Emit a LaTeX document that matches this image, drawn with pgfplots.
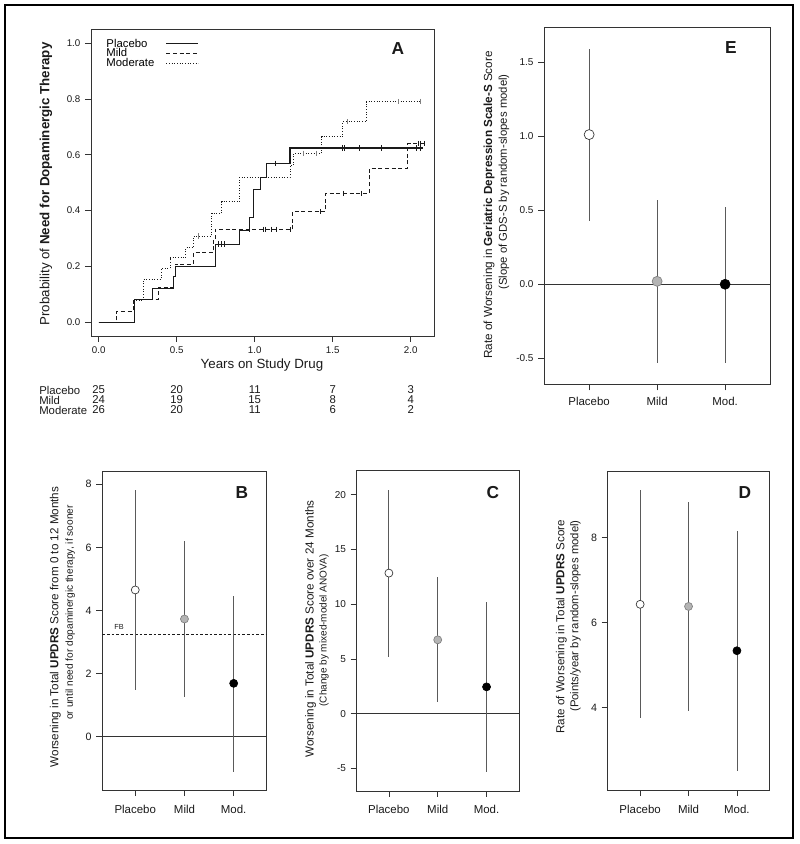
\documentclass[border=0pt]{standalone}
\usepackage{fontspec}
\setmainfont{Liberation Sans}
\usepackage{pgfplots}
\pgfplotsset{compat=1.18}
\usepackage{pgfplotstable}

\definecolor{axgray}{HTML}{333333}
\definecolor{errgray}{HTML}{5A5A5A}
\definecolor{midgray}{HTML}{B4B4B4}
\definecolor{ink}{HTML}{1A1A1A}

\pgfplotstableread{
x y lo hi
0 1.01 0.43 1.59
1 0.02 -0.53 0.57
2 0.00 -0.53 0.52
}\tabE
\pgfplotstableread{
x y lo hi
0 4.65 1.48 7.82
1 3.73 1.27 6.20
2 1.69 -1.11 4.47
}\tabB
\pgfplotstableread{
x y lo hi
0 12.84 5.21 20.46
1 6.74 1.04 12.44
2 2.44 -5.30 10.18
}\tabC
\pgfplotstableread{
x y lo hi
0 6.43 3.77 9.11
1 6.38 3.92 8.84
2 5.34 2.52 8.16
}\tabD

\pgfplotsset{
  panel/.style={scale only axis, anchor=north west,
    axis line style={axgray, line width=0.6pt},
    tick style={axgray, line width=0.5pt},
    tick align=outside, tick pos=left, major tick length=4.5pt,
    /pgf/number format/assume math mode=true,
    ticklabel style={text=ink}},
  cat/.style={panel, xmin=-0.67, xmax=2.67, xtick={0,1,2},
    xticklabels={Placebo,Mild,Mod.},
    xticklabel style={font=\fontsize{8.6}{10}\selectfont, yshift=-3pt},
    yticklabel style={font=\fontsize{7.5}{9}\selectfont}},
  m0/.style={only marks, mark=*, mark size=3pt, mark options={fill=white, draw=axgray, line width=0.5pt}},
  m1/.style={only marks, mark=*, mark size=3pt, mark options={fill=midgray, draw=gray, line width=0.5pt}},
  m2/.style={only marks, mark=*, mark size=3pt, mark options={fill=black, draw=black, line width=0.5pt}},
  eb/.style={draw=none, mark=none, forget plot,
    error bars/.cd, y dir=both, y explicit, error mark=none,
    error bar style={draw=errgray, line width=0.6pt, solid}},
  zl/.style={axgray, line width=0.6pt, mark=none, forget plot},
}

\begin{document}
\begin{tikzpicture}

% ---------------- Panel A ----------------
\begin{axis}[panel, at={(68.25pt,611.25pt)}, width=257.25pt, height=230.25pt,
  xmin=-0.0494, xmax=2.149, ymin=-0.049, ymax=1.05,
  xtick={0,0.5,1,1.5,2}, ytick={0,0.2,0.4,0.6,0.8,1},
  ticklabel style={font=\fontsize{7.3}{8}\selectfont},
  xticklabel={\pgfmathprintnumber[fixed,fixed zerofill,precision=1]{\tick}},
  yticklabel={\pgfmathprintnumber[fixed,fixed zerofill,precision=1]{\tick}},
  legend style={draw=none, fill=none, at={(0.042,0.968)}, anchor=north west,
    font=\fontsize{8.5}{8}\selectfont, row sep=0pt, column sep=8pt, inner sep=0pt,
    nodes={inner sep=0.6pt, text height=5.4pt, text depth=0.6pt}},
  legend plot pos=right, legend cell align=left,
  legend image code/.code={\draw[#1] (0pt,0pt) -- (24pt,0pt);},
]
\addplot[const plot, ink, line width=0.8pt, mark=none] coordinates {
 (0,0) (0.229,0.08) (0.342,0.12) (0.479,0.163) (0.49,0.2) (0.746,0.28)
 (0.902,0.33) (0.966,0.376) (0.991,0.474) (1.034,0.519) (1.073,0.569)
 (1.226,0.624) (2.077,0.624)};
\addlegendentry{Placebo}
\addplot[const plot, ink, line width=0.6pt, dash pattern=on 3pt off 2pt, mark=none] coordinates {
 (0,0) (0.115,0.04) (0.222,0.083) (0.382,0.125) (0.479,0.166) (0.49,0.209)
 (0.607,0.25) (0.735,0.292) (0.746,0.333) (1.241,0.396) (1.455,0.462)
 (1.733,0.55) (1.979,0.64) (2.09,0.64)};
\addlegendentry{Mild}
\addplot[const plot, ink, line width=0.7pt, dash pattern=on 0.6pt off 1.4pt, mark=none] coordinates {
 (0,0) (0.229,0.077) (0.285,0.154) (0.40,0.193) (0.457,0.232) (0.558,0.268)
 (0.607,0.309) (0.724,0.39) (0.788,0.431) (0.902,0.519) (1.226,0.561)
 (1.248,0.605) (1.429,0.665) (1.564,0.718) (1.714,0.79) (2.064,0.79)};
\addlegendentry{Moderate}
% censoring marks
\addplot[only marks, forget plot, mark=|, mark size=2pt, mark options={solid, ink, line width=0.4pt}] coordinates {
 (0.767,0.28) (0.784,0.28) (0.803,0.28) (1.132,0.569) (1.558,0.624) (1.573,0.624)
 (1.671,0.624) (1.808,0.624) (2.034,0.624) (2.064,0.624)};
\addplot[only marks, forget plot, mark=|, mark size=2pt, mark options={solid, ink, line width=0.4pt}] coordinates {
 (0.966,0.333) (1.056,0.333) (1.07,0.333) (1.103,0.333) (1.141,0.333) (1.226,0.333)
 (1.419,0.396) (1.568,0.462) (1.686,0.462) (2.05,0.64) (2.064,0.64) (2.085,0.64)};
\addplot[only marks, forget plot, mark=|, mark size=2pt, mark options={solid, gray, line width=0.4pt}] coordinates {
 (0.635,0.309) (1.312,0.605) (1.393,0.605) (1.596,0.718) (1.917,0.79) (2.06,0.79) (2.064,0.79)};
\end{axis}

% ---------------- Panel E ----------------
\begin{axis}[cat, at={(408.2pt,612.2pt)}, width=169.8pt, height=267.45pt,
  xmin=-0.66, xmax=2.67, ymin=-0.675, ymax=1.731,
  ytick={-0.5,0,0.5,1,1.5},
  xticklabel style={yshift=1.5pt},
  yticklabel={\pgfmathprintnumber[fixed,fixed zerofill,precision=1]{\tick}},
]
\addplot[zl] coordinates {(-0.66,0) (2.67,0)};
\addplot[eb] table[x=x, y=y, y error plus expr=\thisrow{hi}-\thisrow{y}, y error minus expr=\thisrow{y}-\thisrow{lo}] {\tabE};
\addplot[m0, mark size=3.75pt] coordinates {(0,1.01)};
\addplot[m1, mark size=3.75pt] coordinates {(1,0.02)};
\addplot[m2, mark size=3.75pt] coordinates {(2,0.00)};
\end{axis}

% ---------------- Panel B ----------------
\begin{axis}[cat, at={(76.7pt,279.75pt)}, width=123.3pt, height=239.25pt,
  ymin=-1.69, ymax=8.42, ytick={0,2,4,6,8},
  yticklabel style={font=\fontsize{8}{9}\selectfont},
]
\addplot[zl] coordinates {(-0.67,0) (2.67,0)};
\addplot[ink, line width=0.6pt, dash pattern=on 2pt off 1.5pt, mark=none, forget plot] coordinates {(-0.67,3.23) (2.67,3.23)};
\addplot[eb] table[x=x, y=y, y error plus expr=\thisrow{hi}-\thisrow{y}, y error minus expr=\thisrow{y}-\thisrow{lo}] {\tabB};
\addplot[m0] coordinates {(0,4.65)};
\addplot[m1] coordinates {(1,3.73)};
\addplot[m2] coordinates {(2,1.69)};
\end{axis}

% ---------------- Panel C ----------------
\begin{axis}[cat, at={(267.5pt,280pt)}, width=121.95pt, height=240.2pt,
  xmin=-0.66, ymin=-7.07, ymax=22.2, ytick={-5,0,5,10,15,20},
]
\addplot[zl] coordinates {(-0.66,0) (2.67,0)};
\addplot[eb] table[x=x, y=y, y error plus expr=\thisrow{hi}-\thisrow{y}, y error minus expr=\thisrow{y}-\thisrow{lo}] {\tabC};
\addplot[m0] coordinates {(0,12.84)};
\addplot[m1] coordinates {(1,6.74)};
\addplot[m2] coordinates {(2,2.44)};
\end{axis}

% ---------------- Panel D ----------------
\begin{axis}[cat, at={(455.8pt,279.75pt)}, width=121.2pt, height=239.25pt,
  ymin=2.07, ymax=9.56, ytick={4,6,8},
  yticklabel style={font=\fontsize{8}{9}\selectfont},
]
\addplot[eb] table[x=x, y=y, y error plus expr=\thisrow{hi}-\thisrow{y}, y error minus expr=\thisrow{y}-\thisrow{lo}] {\tabD};
\addplot[m0] coordinates {(0,6.43)};
\addplot[m1] coordinates {(1,6.38)};
\addplot[m2] coordinates {(2,5.34)};
\end{axis}

% ---------------- Labels (pixel coordinates) ----------------
\begin{scope}[x=0.75pt, y=-0.75pt, yshift=633pt, every node/.style={text=ink}]
% Panel A
\node[rotate=90, font=\fontsize{10}{12}\selectfont] at (46,184) {Probability of \textbf{Need for Dopaminergic Therapy}};
\node[font=\fontsize{10}{12}\selectfont] at (262,365) {Years on Study Drug};
\node[font=\bfseries\fontsize{13}{15}\selectfont] at (398,49) {A};
\begin{scope}[every node/.append style={font=\fontsize{8.5}{9}\selectfont, inner sep=0pt}]
\node[anchor=west] at (39,390) {Placebo};
\node[anchor=west] at (39,400) {Mild};
\node[anchor=west] at (39,410) {Moderate};
\node at (98.7,390) {25}; \node at (176.7,390) {20}; \node at (254.7,390) {11}; \node at (332.7,390) {7}; \node at (410.7,390) {3};
\node at (98.7,400) {24}; \node at (176.7,400) {19}; \node at (254.7,400) {15}; \node at (332.7,400) {8}; \node at (410.7,400) {4};
\node at (98.7,410) {26}; \node at (176.7,410) {20}; \node at (254.7,410) {11}; \node at (332.7,410) {6}; \node at (410.7,410) {2};
\end{scope}
% Panel E
\node[rotate=90, font=\fontsize{8.8}{10}\selectfont] at (489,205) {Rate of Worsening in \textbf{Geriatric Depression Scale-S} Score};
\node[rotate=90, font=\fontsize{8.5}{10}\selectfont] at (504,182) {(Slope of GDS-S by random-slopes model)};
\node[font=\bfseries\fontsize{13}{15}\selectfont] at (731,48) {E};
% Panel B
\node[rotate=90, font=\fontsize{8.75}{10}\selectfont] at (55.3,627) {Worsening in Total \textbf{UPDRS} Score from 0 to 12 Months};
\node[rotate=90, font=\fontsize{7.6}{9}\selectfont] at (70.3,612.5) {or until need for dopaminergic therapy, if sooner};
\node[font=\fontsize{5.5}{6}\selectfont] at (119,627) {FB};
\node[font=\bfseries\fontsize{13}{15}\selectfont] at (242,493) {B};
% Panel C
\node[rotate=90, font=\fontsize{8.75}{10}\selectfont] at (310.7,629) {Worsening in Total \textbf{UPDRS} Score over 24 Months};
\node[rotate=90, font=\fontsize{7.5}{9}\selectfont] at (324,630.5) {(Change by mixed-model ANOVA)};
\node[font=\bfseries\fontsize{13}{15}\selectfont] at (493,493) {C};
% Panel D
\node[rotate=90, font=\fontsize{8.7}{10}\selectfont] at (561.3,626.8) {Rate of Worsening in Total \textbf{UPDRS} Score};
\node[rotate=90, font=\fontsize{8.5}{10}\selectfont] at (575.5,616) {(Points/year by random-slopes model)};
\node[font=\bfseries\fontsize{13}{15}\selectfont] at (745,493) {D};
\end{scope}

% outer frame
\draw[line width=1pt, black] (3.75pt,4.5pt) rectangle (594.75pt,629.25pt);
\pgfresetboundingbox
\path (0pt,0pt) rectangle (600pt,633pt);
\end{tikzpicture}
\end{document}
